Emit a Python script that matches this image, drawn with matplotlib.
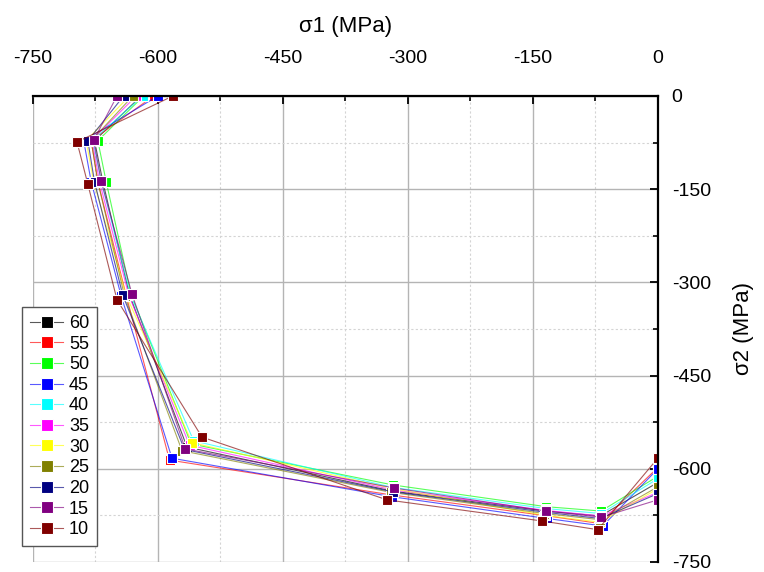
import matplotlib
matplotlib.use('Agg')
import matplotlib.pyplot as plt
from matplotlib.ticker import MultipleLocator
from matplotlib.colors import to_rgba

plt.rcParams['font.family'] = ['Liberation Sans', 'DejaVu Sans']
plt.rcParams['axes.unicode_minus'] = False

# ángulos de la serie (leyenda)
labels = ['60', '55', '50', '45', '40', '35', '30', '25', '20', '15', '10']
colors = ['#000000', '#ff0000', '#00ff00', '#0000ff', '#00ffff', '#ff00ff',
          '#ffff00', '#808000', '#000080', '#800080', '#800000']

# sigma1 (MPa) por serie, 9 puntos cada una
s1_60 = [-620, -676, -666, -634, -565, -318, -135, -69, 0]
s1_55 = [-605, -680, -672, -638, -586, -320, -137, -70, 0]
s1_50 = [-617, -672, -662, -632, -560, -318, -134, -68, 0]
s1_45 = [-600, -689, -680, -644, -583, -319, -133, -66, 0]
s1_40 = [-618, -678, -668, -633, -557, -318, -134, -68, 0]
s1_35 = [-626, -679, -670, -635, -562, -318, -134, -68, 0]
s1_30 = [-634, -686, -677, -638, -559, -318, -135, -69, 0]
s1_25 = [-630, -680, -672, -640, -571, -320, -136, -69, 0]
s1_20 = [-641, -684, -676, -642, -568, -318, -135, -69, 0]
s1_15 = [-649, -677, -668, -631, -567, -316, -134, -68, 0]
s1_10 = [-582, -697, -684, -649, -547, -325, -139, -72, 0]

# sigma2 (MPa) por serie
s2_60 = [0, -72, -138, -320, -565, -636, -668, -676, -622]
s2_55 = [0, -72, -138, -321, -586, -642, -675, -688, -598]
s2_50 = [0, -72, -138, -320, -560, -626, -661, -668, -612]
s2_45 = [0, -72, -138, -322, -583, -645, -680, -692, -600]
s2_40 = [0, -71, -137, -320, -555, -630, -664, -672, -616]
s2_35 = [0, -71, -138, -320, -562, -634, -667, -676, -638]
s2_30 = [0, -72, -138, -321, -558, -632, -675, -686, -632]
s2_25 = [0, -72, -138, -322, -571, -638, -672, -682, -629]
s2_20 = [0, -72, -138, -321, -569, -637, -670, -680, -640]
s2_15 = [0, -71, -137, -319, -568, -631, -668, -678, -650]
s2_10 = [0, -74, -142, -328, -549, -650, -684, -698, -583]

sigma1 = [s1_60, s1_55, s1_50, s1_45, s1_40, s1_35, s1_30, s1_25, s1_20, s1_15, s1_10]
sigma2 = [s2_60, s2_55, s2_50, s2_45, s2_40, s2_35, s2_30, s2_25, s2_20, s2_15, s2_10]

fig = plt.figure(figsize=(7.64, 5.72), dpi=100)
ax = fig.add_axes([0.043, 0.0175, 0.818, 0.8147])

for x, y, c, lab in zip(sigma1, sigma2, colors, labels):
    ax.plot(x, y, color=to_rgba(c, 0.65), linewidth=0.8, marker='s', markersize=7.5,
            markerfacecolor=c, markeredgecolor='white', markeredgewidth=0.8, label=lab)

ax.set_xlim(-750, 0)
ax.set_ylim(-750, 0)
ax.xaxis.set_major_locator(MultipleLocator(150))
ax.xaxis.set_minor_locator(MultipleLocator(75))
ax.yaxis.set_major_locator(MultipleLocator(150))
ax.yaxis.set_minor_locator(MultipleLocator(75))

ax.xaxis.tick_top()
ax.yaxis.tick_right()
ax.xaxis.set_label_position('top')
ax.yaxis.set_label_position('right')
for s in ['left', 'bottom']:
    ax.spines[s].set_visible(False)
for s in ['top', 'right']:
    ax.spines[s].set_linewidth(1.6)

ax.tick_params(axis='x', which='major', direction='in', length=6, width=1.3, pad=21, labelsize=14)
ax.tick_params(axis='y', which='major', direction='in', length=6, width=1.3, pad=10, labelsize=14)
ax.tick_params(which='minor', direction='in', length=3.5, width=1.2)

ax.grid(True, which='major', color='#b4b4b4', linewidth=1.0, linestyle='-')
ax.grid(True, which='minor', color='#d4d4d4', linewidth=0.8, linestyle=(0, (2, 2)))
ax.set_axisbelow(True)

ax.set_xlabel('σ1 (MPa)', fontsize=16, labelpad=13)
ax.set_ylabel('σ2 (MPa)', fontsize=16, labelpad=16)

ax.legend(loc='lower left', bbox_to_anchor=(0.029, 0.045), bbox_transform=fig.transFigure,
          fontsize=13, frameon=True, fancybox=False, edgecolor='#555555',
          framealpha=1, labelspacing=0.2, handlelength=1.8, handletextpad=0.35,
          borderpad=0.45, borderaxespad=0, markerscale=1.15)

fig.savefig('out.png', dpi=100)
